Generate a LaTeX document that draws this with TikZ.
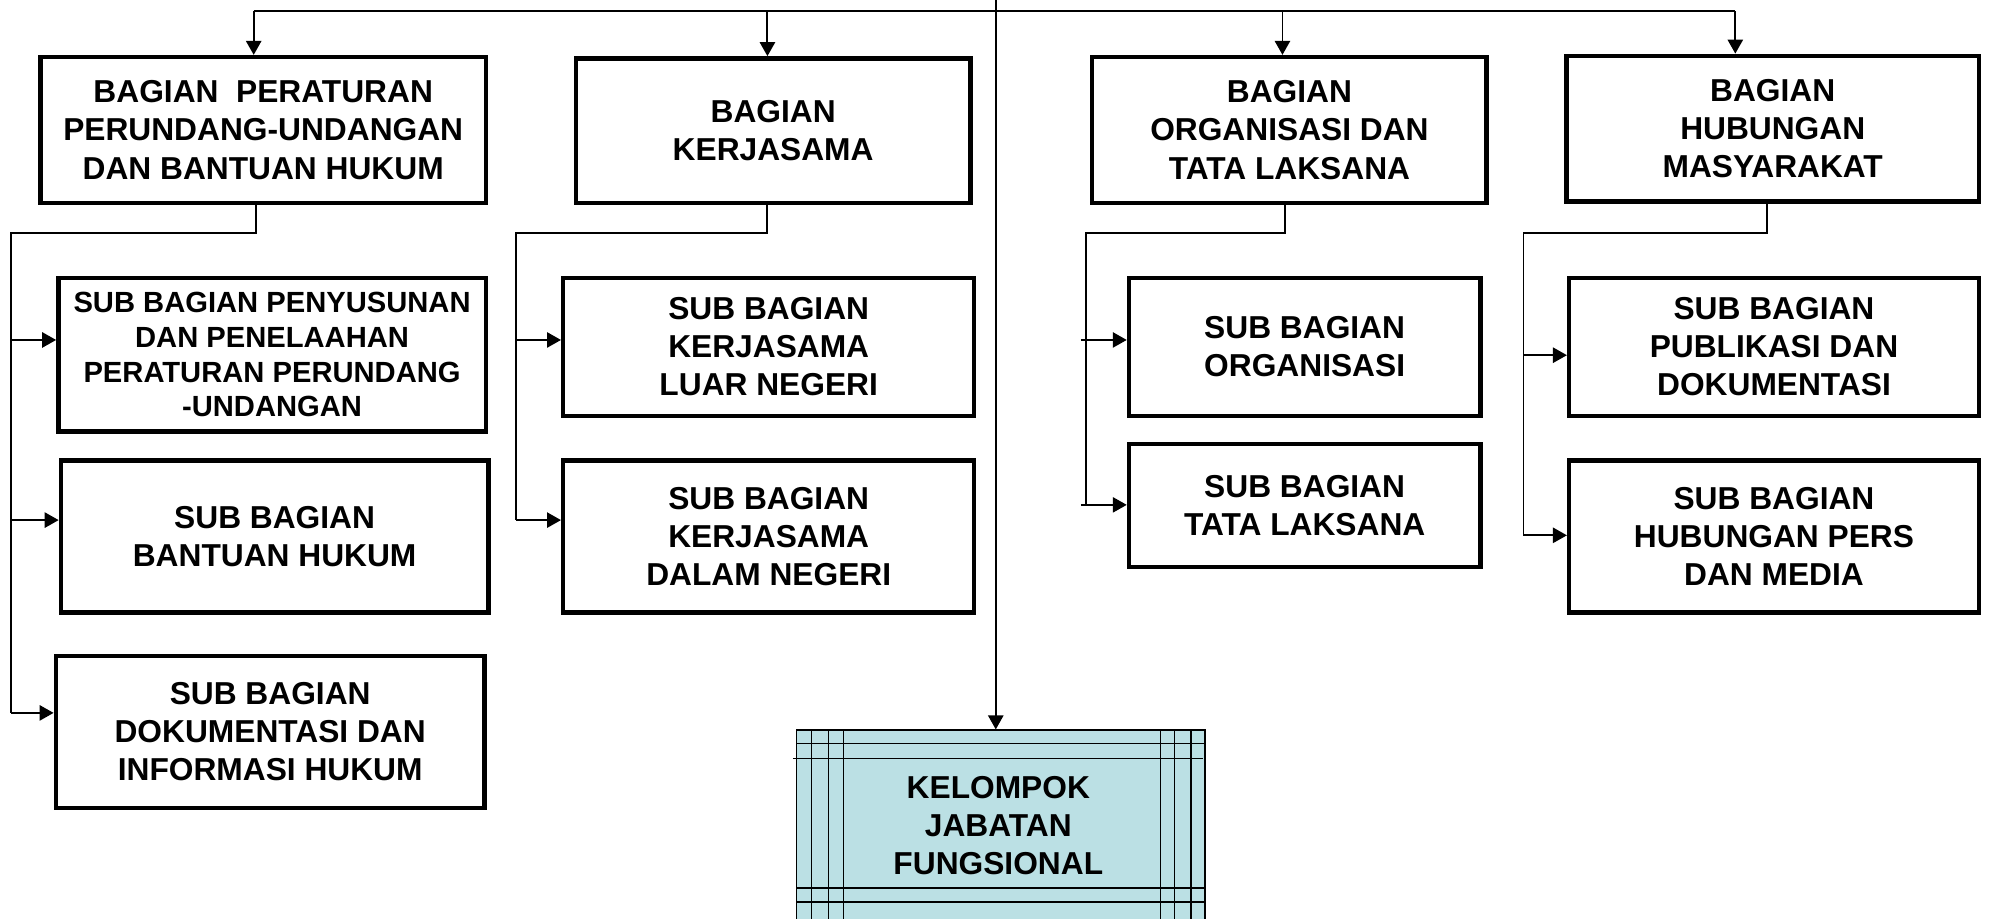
\documentclass[tikz,border=0pt]{standalone}
\usepackage{fontspec}
\setmainfont{Liberation Sans}
\usetikzlibrary{arrows.meta}
\definecolor{kelblue}{RGB}{187,224,228}
\begin{document}
\begin{tikzpicture}[x=1pt,y=-1pt,
  box/.style={draw, line width=3.5pt, rectangle, inner sep=0pt, align=center,
    font=\bfseries\fontsize{25}{30}\selectfont},
  conn/.style={line width=1.5pt},
  arr/.style={line width=1.5pt, -{Triangle[length=11pt,width=12pt]}},
  thinline/.style={line width=1pt}]
\useasboundingbox (0,0) rectangle (1568,724);
\clip (0,0) rectangle (1568,724);

% top level boxes
\node[box, minimum width=351pt, minimum height=115pt] (b1) at (207.5,102.5)
  {BAGIAN\ \ PERATURAN\\PERUNDANG-UNDANGAN\\DAN BANTUAN HUKUM};
\node[box, minimum width=311pt, minimum height=114pt] (b2) at (609.5,103)
  {BAGIAN\\KERJASAMA};
\node[box, minimum width=311pt, minimum height=115pt] (b3) at (1016.5,102.5)
  {BAGIAN\\ORGANISASI DAN\\TATA LAKSANA};
\node[box, minimum width=325pt, minimum height=115pt] (b4) at (1397.5,101.5)
  {BAGIAN\\HUBUNGAN\\MASYARAKAT};

% sub boxes column 1
\node[box, minimum width=337pt, minimum height=121pt, font=\bfseries\fontsize{23}{27.5}\selectfont] (sa) at (214.5,279.5)
  {SUB BAGIAN PENYUSUNAN\\DAN PENELAAHAN\\PERATURAN PERUNDANG\\-UNDANGAN};
\node[box, minimum width=337pt, minimum height=120pt] (sb) at (216.5,423)
  {SUB BAGIAN\\BANTUAN HUKUM};
\node[box, minimum width=338pt, minimum height=120pt] (sc) at (213,577)
  {SUB BAGIAN\\DOKUMENTASI DAN\\INFORMASI HUKUM};
% column 2
\node[box, minimum width=324pt, minimum height=109pt] (sd) at (606,273.5)
  {SUB BAGIAN\\KERJASAMA\\LUAR NEGERI};
\node[box, minimum width=324pt, minimum height=120pt] (se) at (606,423)
  {SUB BAGIAN\\KERJASAMA\\DALAM NEGERI};
% column 3
\node[box, minimum width=277pt, minimum height=109pt] (sf) at (1028.5,273.5)
  {SUB BAGIAN\\ORGANISASI};
\node[box, minimum width=277pt, minimum height=97pt] (sg) at (1028.5,398.5)
  {SUB BAGIAN\\TATA LAKSANA};
% column 4
\node[box, minimum width=323pt, minimum height=109pt] (sh) at (1398.5,273.5)
  {SUB BAGIAN\\PUBLIKASI DAN\\DOKUMENTASI};
\node[box, minimum width=323pt, minimum height=120pt] (si) at (1398.5,423)
  {SUB BAGIAN\\HUBUNGAN PERS\\DAN MEDIA};

% kelompok jabatan fungsional
\node[draw, thinline, fill=kelblue, minimum width=322pt, minimum height=170pt,
  inner sep=0pt, anchor=north] (kel) at (789,575) {};
\foreach \xx in {640,653,665,915,926,939}
  \draw[thinline] (\xx,575) -- (\xx,750);
\foreach \yy in {586,700,711}
  \draw[thinline] (628,\yy) -- (950,\yy);
\draw[thinline] (625,598) -- (948,598);
\node[font=\bfseries\fontsize{25}{30}\selectfont, align=center, inner sep=0pt] (kt) at (787,651)
  {KELOMPOK\\JABATAN\\FUNGSIONAL};

% top bus
\coordinate (top) at (785,0);
\coordinate (t1) at (200,9);
\coordinate (t2) at (605,9);
\coordinate (t3) at (1011,9);
\coordinate (t4) at (1368,9);
\draw[conn] (t1) -- (t4);
\draw[arr] (top) -- (top |- kel.north);
\draw[arr] (t1) -- (t1 |- b1.north);
\draw[arr] (t2) -- (t2 |- b2.north);
\draw[arr] (t3) -- (t3 |- b3.north);
\draw[arr] (t4) -- (t4 |- b4.north);

% column 1 connectors
\coordinate (c1) at (202,184);
\coordinate (s1) at (9,184);
\coordinate (e1) at (9,562);
\draw[conn] (c1 |- b1.south) -- (c1) -- (s1) -- (e1);
\coordinate (a1) at (9,268);
\coordinate (a2) at (9,410);
\draw[arr] (a1) -- (a1 -| sa.west);
\draw[arr] (a2) -- (a2 -| sb.west);
\draw[arr] (e1) -- (e1 -| sc.west);

% column 2 connectors
\coordinate (c2) at (605,184);
\coordinate (s2) at (407,184);
\coordinate (e2) at (407,410);
\draw[conn] (c2 |- b2.south) -- (c2) -- (s2) -- (e2);
\coordinate (a3) at (407,268);
\draw[arr] (a3) -- (a3 -| sd.west);
\draw[arr] (e2) -- (e2 -| se.west);

% column 3 connectors
\coordinate (c3) at (1013,184);
\coordinate (s3) at (856,184);
\coordinate (e3) at (856,398);
\draw[conn] (c3 |- b3.south) -- (c3) -- (s3) -- (e3);
\coordinate (a4) at (852,268);
\coordinate (a5) at (852,398);
\draw[arr] (a4) -- (a4 -| sf.west);
\draw[arr] (a5) -- (a5 -| sg.west);

% column 4 connectors
\coordinate (c4) at (1393,184);
\coordinate (s4) at (1201,184);
\coordinate (e4) at (1201,422);
\draw[conn] (c4 |- b4.south) -- (c4) -- (s4) -- (e4);
\coordinate (a6) at (1201,280);
\draw[arr] (a6) -- (a6 -| sh.west);
\draw[arr] (e4) -- (e4 -| si.west);
\end{tikzpicture}
\end{document}
